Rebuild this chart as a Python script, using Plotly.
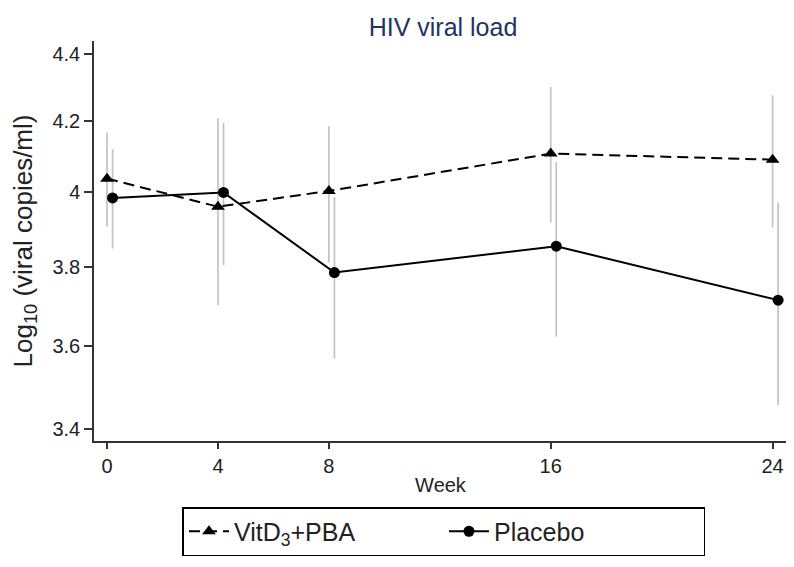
import math
import plotly.graph_objects as go

# weeks of follow-up
weeks = [0, 4, 8, 16, 24]

# VitD3 + PBA arm: mean and 95% CI (log10 copies/ml)
vit_mean = [4.038, 3.961, 4.004, 4.108, 4.091]
vit_lo = [3.907, 3.702, 3.812, 3.918, 3.905]
vit_hi = [4.168, 4.209, 4.186, 4.300, 4.276]

# Placebo arm
pla_mean = [3.985, 4.000, 3.786, 3.855, 3.715]
pla_lo = [3.849, 3.805, 3.569, 3.623, 3.457]
pla_hi = [4.120, 4.195, 3.988, 4.084, 3.972]

y_ticks = [3.4, 3.6, 3.8, 4.0, 4.2, 4.4]
y_ticktext = ["3.4", "3.6", "3.8", "4", "4.2", "4.4"]

# placebo points are nudged right a little so the bars don't overlap
shift = 0.2
pla_x = [w + shift for w in weeks]

font = "Liberation Sans, Arial, sans-serif"
bar_col = "#c3c3c3"

fig = go.Figure()

# CI bars first so the lines sit on top
fig.add_trace(go.Scatter(
    x=weeks, y=vit_mean, mode="markers", marker=dict(size=1, opacity=0),
    error_y=dict(type="data", symmetric=False,
                 array=[h - m for h, m in zip(vit_hi, vit_mean)],
                 arrayminus=[m - l for m, l in zip(vit_mean, vit_lo)],
                 color=bar_col, thickness=1.7, width=0),
    showlegend=False, hoverinfo="skip"))
fig.add_trace(go.Scatter(
    x=pla_x, y=pla_mean, mode="markers", marker=dict(size=1, opacity=0),
    error_y=dict(type="data", symmetric=False,
                 array=[h - m for h, m in zip(pla_hi, pla_mean)],
                 arrayminus=[m - l for m, l in zip(pla_mean, pla_lo)],
                 color=bar_col, thickness=1.7, width=0),
    showlegend=False, hoverinfo="skip"))

fig.add_trace(go.Scatter(
    x=weeks, y=vit_mean, mode="lines+markers", name="VitD<sub>3</sub>+PBA",
    line=dict(color="black", width=2, dash="11px,6px"),
    marker=dict(symbol="triangle-up", size=12, color="black")))
fig.add_trace(go.Scatter(
    x=pla_x, y=pla_mean, mode="lines+markers", name="Placebo",
    line=dict(color="black", width=2),
    marker=dict(symbol="circle", size=11, color="black")))

# the page body has an 8px margin, so the figure is a bit smaller than the window
fig.update_layout(
    width=786, height=559,
    margin=dict(l=86, r=7, t=33, b=126, autoexpand=False),
    paper_bgcolor="white", plot_bgcolor="white",
    font=dict(family=font, color="#222222"),
    title=dict(text="HIV viral load", x=0.5036, xref="paper", xanchor="center",
               y=1, yref="paper", yanchor="bottom", pad=dict(b=5),
               font=dict(size=25, color="#1c3561", family=font)),
    legend=dict(orientation="h", x=0.505, xanchor="center", y=-0.165, yanchor="top",
                bordercolor="black", borderwidth=1.5, font=dict(size=25, family=font),
                entrywidth=205, itemwidth=40, tracegroupgap=0),
    showlegend=True,
)

fig.update_xaxes(
    range=[-0.47, 24.52], tickvals=weeks, ticks="outside", ticklen=6, tickwidth=1.5,
    tickcolor="#333333", showline=True, linecolor="#333333", linewidth=1.5,
    showgrid=False, zeroline=False, tickfont=dict(size=20), automargin=False,
    title=dict(text="Week", font=dict(size=20), standoff=2))

fig.update_yaxes(
    type="log", range=[math.log10(3.3727), math.log10(4.438)],
    tickvals=y_ticks, ticktext=y_ticktext, ticks="outside", ticklen=8, tickwidth=1.5,
    tickcolor="#333333", showline=True, linecolor="#333333", linewidth=1.5,
    showgrid=False, zeroline=False, tickfont=dict(size=20), automargin=False,
    title=dict(text="Log<sub>10</sub> (viral copies/ml)", font=dict(size=26), standoff=14))

fig.write_html("out.html")
